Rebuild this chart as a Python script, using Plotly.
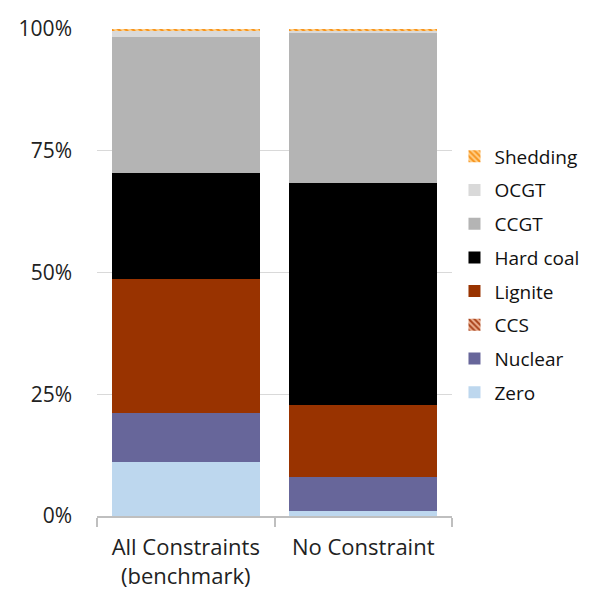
import plotly.graph_objects as go

categories = ["All Constraints<br>(benchmark)", "No Constraint"]
series_names = ["Zero", "Nuclear", "CCS", "Lignite", "Hard coal", "CCGT", "OCGT", "Shedding"]
zero = [11.1, 1.0]
nuclear = [10.1, 7.1]
ccs = [0.0, 0.0]
lignite = [27.4, 14.7]
hard_coal = [21.9, 45.5]
ccgt = [27.8, 31.0]
ocgt = [1.4, 0.4]
shedding = [0.3, 0.3]
y_ticks = [0, 25, 50, 75, 100]
y_tick_labels = ["0%", "25%", "50%", "75%", "100%"]

values = [zero, nuclear, ccs, lignite, hard_coal, ccgt, ocgt, shedding]
colors = ["#BDD7EE", "#67669A", "#C0603A", "#993300", "#000000", "#B4B4B4", "#D9D9D9", "#FFB347"]
patterns = [None, None, ("\\", "#A8421A", "#EDB090"), None, None, None, None, ("\\", "#F7941D", "#FFD08A")]

fig = go.Figure()
n = len(series_names)
for i, (name, vals, col, pat) in enumerate(zip(series_names, values, colors, patterns)):
    marker = dict(color=col, line=dict(width=0))
    if pat:
        marker["pattern"] = dict(shape=pat[0], fgcolor=pat[1], bgcolor=pat[2], size=5, solidity=0.5, fillmode="replace")
    fig.add_trace(go.Bar(x=categories, y=vals, name=name, marker=marker,
                         legendgroup=name, legendrank=n - i))

fig.update_layout(
    barmode="stack",
    bargap=0.166,
    width=598, height=597,
    margin=dict(l=89, r=154, t=21, b=89, autoexpand=False),
    paper_bgcolor="white", plot_bgcolor="white",
    font=dict(family="Open Sans", size=20, color="#222222"),
    showlegend=True,
    legend=dict(x=1.007, xanchor="left", y=0.496, yanchor="middle",
                traceorder="grouped", tracegroupgap=6,
                font=dict(size=19, color="#111111"), itemwidth=30),
)
fig.update_yaxes(range=[0, 100], tickvals=y_ticks, ticktext=y_tick_labels,
                 showgrid=True, gridcolor="#D9D9D9", gridwidth=1, zeroline=False,
                 showline=False, ticks="", ticklabelstandoff=24, automargin=False,
                 tickfont=dict(size=21))
fig.update_xaxes(showline=True, linecolor="#BFBFBF", linewidth=1.5, automargin=False,
                 ticks="outside", tickson="boundaries", ticklen=9, tickcolor="#BFBFBF",
                 tickwidth=1.5, tickfont=dict(size=22), ticklabelstandoff=11)

fig.write_html("out.html")
